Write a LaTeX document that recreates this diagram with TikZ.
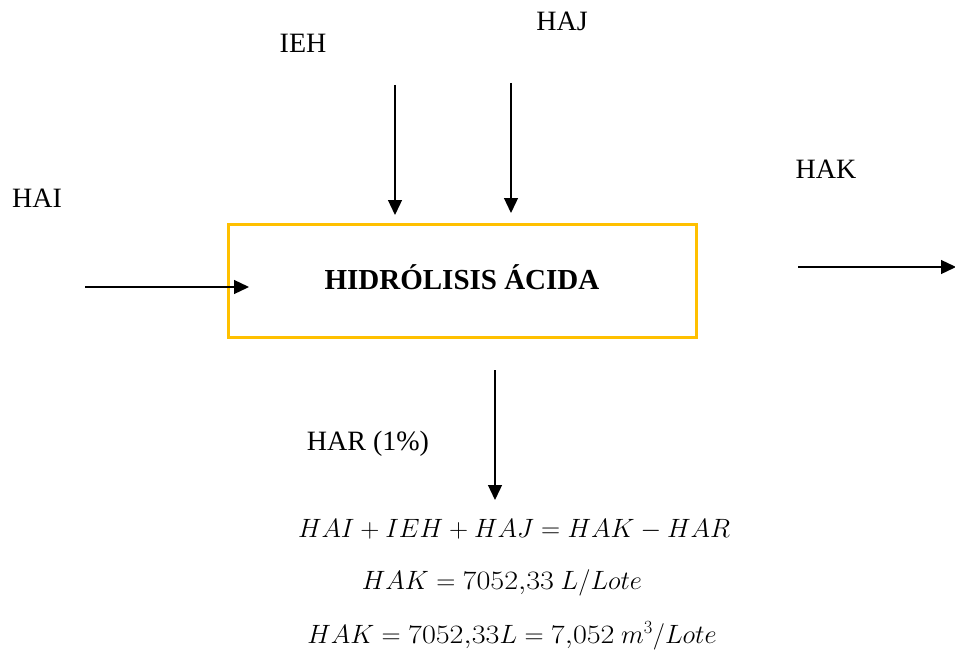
\RequirePackage{fix-cm}
\documentclass[tikz,border=0pt]{standalone}
\usepackage{fontspec}
\setmainfont{Liberation Serif}
\usepackage{graphicx}
\usetikzlibrary{arrows.meta}
\newcommand{\wnum}[1]{\scalebox{1.14}[1]{$#1$}}
\begin{document}
\begin{tikzpicture}[x=1pt,y=-1pt,
  lbl/.style={font=\fontsize{28}{32}\selectfont, inner sep=0pt},
  flow/.style={line width=1.3pt, -{Triangle[length=15pt,width=14pt]}},
  procbox/.style={draw={rgb,255:red,255;green,192;blue,0}, line width=3pt,
    minimum width=468pt, minimum height=113pt, inner sep=0pt,
    font=\fontsize{29}{34}\selectfont\bfseries},
  eq/.style={font=\fontsize{26.5}{32}\selectfont, inner sep=0pt}]
  \useasboundingbox (0,0) rectangle (955,650);

  % process block
  \node[procbox] (hid) at (462,280.5) {\raisebox{6pt}{HIDRÓLISIS ÁCIDA}};

  % stream labels
  \node[lbl] (ieh) at (303,43) {IEH};
  \node[lbl] (haj) at (562,21) {HAJ};
  \node[lbl] (hai) at (37,198) {HAI};
  \node[lbl] (hak) at (826,169) {HAK};
  \node[lbl] (har) at (368,444) {HAR (1\%)};

  % arrow end points
  \coordinate (iehA) at (395,85);  \coordinate (iehB) at (395,215);
  \coordinate (hajA) at (511,83);  \coordinate (hajB) at (511,213);
  \coordinate (haiA) at (85,287);  \coordinate (haiB) at (249,287);
  \coordinate (hakA) at (798,267); \coordinate (hakB) at (956,267);
  \coordinate (harA) at (495,370); \coordinate (harB) at (495,500);

  \draw[flow] (iehA) -- (iehB);
  \draw[flow] (hajA) -- (hajB);
  \draw[flow] (haiA) -- (haiB);
  \draw[flow] (hakA) -- (hakB);
  \draw[flow] (harA) -- (harB);

  % balance equations
  \node[eq] (eq1) at (514,530) {$HAI + IEH + HAJ = HAK - HAR$};
  \node[eq] (eq2) at (502,583) {$HAK = \wnum{7052{,}33}\ L/Lote$};
  \node[eq] (eq3) at (512,636) {$HAK = \wnum{7052{,}33}L = \wnum{7{,}052}\ m^3/Lote$};
\end{tikzpicture}
\end{document}
